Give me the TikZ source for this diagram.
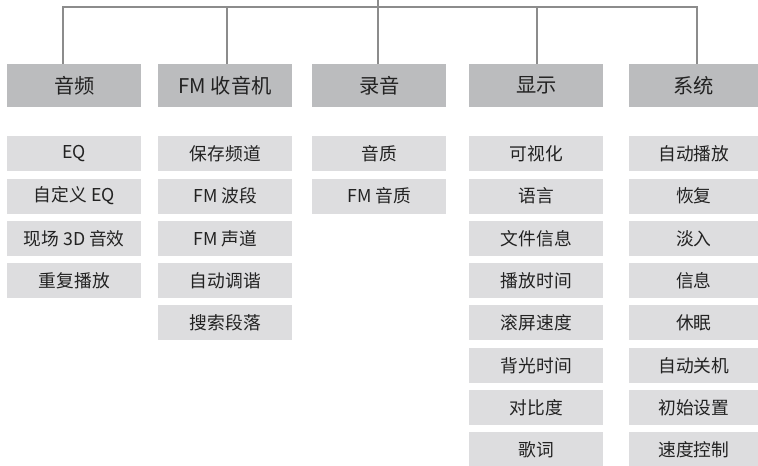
\documentclass[tikz,border=0pt]{standalone}
\usepackage{fontspec}
\setmainfont{Noto Sans CJK SC}
\definecolor{hdfill}{HTML}{BBBCBE}
\definecolor{sbfill}{HTML}{DDDDDF}
\definecolor{linegray}{HTML}{8C8C8C}
\definecolor{txt}{HTML}{222222}
\begin{document}
\begin{tikzpicture}[x=0.75pt,y=-0.75pt,
  hd/.style={anchor=north west,fill=hdfill,text=txt,minimum width=100.5pt,minimum height=32.25pt,inner sep=0pt,font=\fontsize{15.2}{18}\selectfont},
  sb/.style={anchor=north west,fill=sbfill,text=txt,minimum width=100.5pt,minimum height=26.25pt,inner sep=0pt,font=\fontsize{13.3}{15}\selectfont},
  lastcol/.style={minimum width=96.75pt},
  conn/.style={draw=linegray,line width=1.9pt}]
\useasboundingbox (0,0) rectangle (758,466);
% headers
\node[hd] (h1) at (7,64) {音频};
\node[hd] (h2) at (158,64) {FM 收音机};
\node[hd] (h3) at (312,64) {录音};
\node[hd] (h4) at (469,64) {显示};
\node[hd,lastcol] (h5) at (629,64) {系统};
% connectors
\coordinate (top) at (378,-3);
\coordinate (t1) at (63,7);
\coordinate (t2) at (227,7);
\coordinate (t3) at (378,7);
\coordinate (t4) at (537,7);
\coordinate (t5) at (697,7);
\draw[conn] (top) -- (t3);
\draw[conn,line join=miter] (t1 |- h1.north) -- (t1) -- (t5) -- (t5 |- h5.north);
\draw[conn] (t2) -- (t2 |- h2.north);
\draw[conn] (t3) -- (t3 |- h3.north);
\draw[conn] (t4) -- (t4 |- h4.north);
% sub items
\foreach \t [count=\i] in {EQ,自定义 EQ,现场 3D 音效,重复播放}
  \node[sb] (sa\i) at (7,{136+42.3*(\i-1)}) {\t};
\foreach \t [count=\i] in {保存频道,FM 波段,FM 声道,自动调谐,搜索段落}
  \node[sb] (sb\i) at (158,{136+42.3*(\i-1)}) {\t};
\foreach \t [count=\i] in {音质,FM 音质}
  \node[sb] (sc\i) at (312,{136+42.3*(\i-1)}) {\t};
\foreach \t [count=\i] in {可视化,语言,文件信息,播放时间,滚屏速度,背光时间,对比度,歌词}
  \node[sb] (sd\i) at (469,{136+42.3*(\i-1)}) {\t};
\foreach \t [count=\i] in {自动播放,恢复,淡入,信息,休眠,自动关机,初始设置,速度控制}
  \node[sb,lastcol] (se\i) at (629,{136+42.3*(\i-1)}) {\t};
\end{tikzpicture}
\end{document}
